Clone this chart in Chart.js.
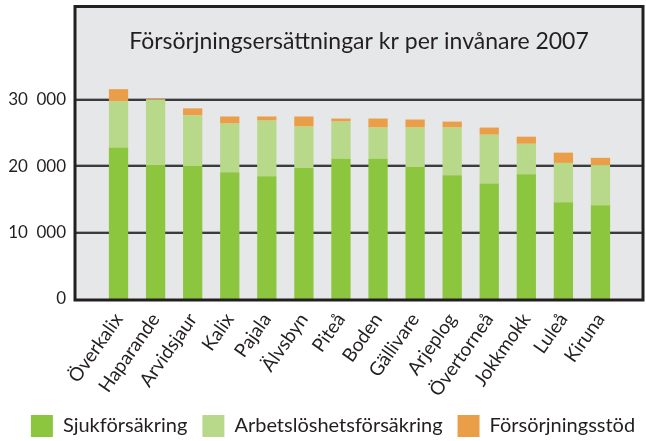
<!DOCTYPE html>
<html lang="sv">
<head>
<meta charset="utf-8">
<title>Försörjningsersättningar kr per invånare 2007</title>
<script src="https://cdn.jsdelivr.net/npm/chart.js@4/dist/chart.umd.min.js"></script>
<style>
  html, body { margin: 0; padding: 0; background: #fff; }
  #wrap { width: 646px; height: 441px; position: relative; }
</style>
</head>
<body>
<div id="wrap"><canvas id="forsorjningChart"></canvas></div>
<script>
'use strict';

// Kommuner (x-axeln)
const kommuner = ['Överkalix', 'Haparande', 'Arvidsjaur', 'Kalix', 'Pajala', 'Älvsbyn', 'Piteå',
  'Boden', 'Gällivare', 'Arjeplog', 'Övertorneå', 'Jokkmokk', 'Luleå', 'Kiruna'];

// kr per invånare
const sjukforsakring = [22800, 20150, 20000, 19070, 18450, 19690, 21090, 21090, 19840, 18600, 17360, 18760, 14560, 14090];
const arbetsloshet = [6940, 9800, 7610, 7320, 8390, 6250, 5600, 4700, 5950, 7190, 7360, 4590, 5910, 6065];
const forsorjningsstod = [1830, 150, 1070, 1070, 620, 1520, 460, 1360, 1210, 900, 1070, 1070, 1550, 1085];

const yTicks = [0, 10000, 20000, 30000];

const chartTitle = 'Försörjningsersättningar kr per invånare 2007';
const fontFamily = 'Lato, "Open Sans", sans-serif';
const textColor = '#231f20';

// grey framed panel, grid lines and title (the panel is wider than the bar area)
const framePlugin = {
  id: 'frame',
  afterLayout(chart) {
    // legend sits a bit right of centre in the original
    chart.legend.left += 10;
    chart.legend.right += 10;
  },
  beforeDraw(chart) {
    const { ctx, chartArea, scales } = chart;
    const left = chartArea.left - 25;
    const right = chartArea.right + 24;
    const top = 5;
    const bottom = chartArea.bottom + 1;

    ctx.save();
    ctx.fillStyle = '#e6e7e9';
    ctx.fillRect(left, top, right - left, bottom - top);

    yTicks.forEach(v => {
      if (v === 0) return;
      const y = Math.round(scales.y.getPixelForValue(v));
      ctx.fillStyle = '#a9aaac';
      ctx.fillRect(left, y - 2, right - left, 1);
      ctx.fillStyle = '#3b3b3d';
      ctx.fillRect(left, y - 1, right - left, 2);
    });

    ctx.fillStyle = textColor;
    ctx.font = '23px ' + fontFamily;
    ctx.textAlign = 'center';
    ctx.textBaseline = 'middle';
    ctx.fillText(chartTitle, (left + right) / 2, 42);
    ctx.restore();
  },
  afterDatasetsDraw(chart) {
    const { ctx, chartArea } = chart;
    const left = chartArea.left - 25;
    const right = chartArea.right + 24;
    ctx.save();
    ctx.strokeStyle = textColor;
    ctx.lineWidth = 3;
    ctx.strokeRect(left, 6.5, right - left, chartArea.bottom + 1 - 6.5);
    ctx.restore();
  }
};

const ctx = document.getElementById('forsorjningChart').getContext('2d');
new Chart(ctx, {
  type: 'bar',
  data: {
    labels: kommuner,
    datasets: [
      {
        label: 'Sjukförsäkring',
        data: sjukforsakring,
        backgroundColor: '#8cc63f'
      },
      {
        label: 'Arbetslöshetsförsäkring',
        data: arbetsloshet,
        backgroundColor: '#b8d98a'
      },
      {
        label: 'Försörjningsstöd',
        data: forsorjningsstod,
        backgroundColor: '#eb9e48'
      }
    ]
  },
  options: {
    responsive: true,
    maintainAspectRatio: false,
    animation: false,
    barPercentage: 0.52,
    categoryPercentage: 1,
    layout: {
      padding: { left: 0, right: 0, top: 73, bottom: -6 }
    },
    plugins: {
      title: { display: false },
      tooltip: { enabled: false },
      legend: {
        display: true,
        position: 'bottom',
        labels: {
          boxWidth: 22,
          boxHeight: 22,
          padding: 15,
          color: textColor,
          font: { family: fontFamily, size: 20 }
        }
      }
    },
    scales: {
      x: {
        stacked: true,
        grid: { display: false },
        border: { display: false },
        ticks: {
          color: textColor,
          font: { family: fontFamily, size: 19 },
          minRotation: 55,
          maxRotation: 55,
          padding: 2
        },
        afterFit: function (scale) {
          scale.height = 101;
        }
      },
      y: {
        stacked: true,
        min: 0,
        max: 34000,
        grid: { display: false, drawTicks: false },
        border: { display: false },
        afterBuildTicks: function (scale) {
          scale.ticks = yTicks.map(v => ({ value: v }));
        },
        ticks: {
          color: textColor,
          font: { family: fontFamily, size: 17 },
          padding: 34,
          callback: function (value) {
            return value === 0 ? '0' : (value / 1000) + '\u2002000';
          }
        },
        afterFit: function (scale) {
          scale.width = 100;
        }
      },
      // empty right axis, only keeps room right of the bars
      yRight: {
        position: 'right',
        display: true,
        grid: { display: false, drawTicks: false },
        border: { display: false },
        ticks: { display: false },
        afterFit: function (scale) {
          scale.width = 27;
        }
      }
    }
  },
  plugins: [framePlugin]
});
</script>
</body>
</html>
